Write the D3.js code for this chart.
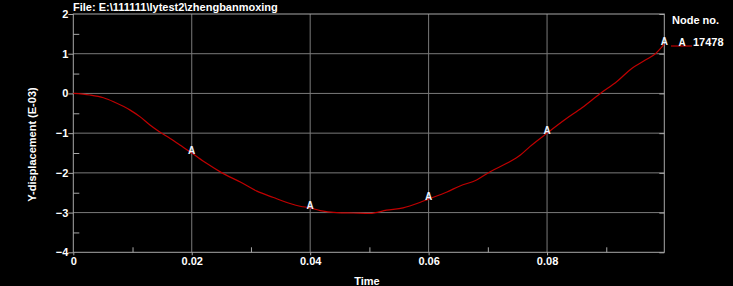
<!DOCTYPE html>
<html>
<head>
<meta charset="utf-8">
<script src="https://cdn.jsdelivr.net/npm/d3@7"></script>
<style>
  html, body { margin: 0; padding: 0; background: #000; }
  svg { display: block; }
</style>
</head>
<body>
<svg id="chart" width="733" height="286"></svg>
<script>
// curve: time (s), Y-displacement (E-03)
const times = [0, 0.0028, 0.0051, 0.0068, 0.0096, 0.0113, 0.013, 0.0146, 0.0163, 0.018, 0.02,
  0.0225, 0.0251, 0.0282, 0.031, 0.0338, 0.0366, 0.0383, 0.04, 0.0417, 0.0445, 0.0473, 0.0501,
  0.0529, 0.0557, 0.0586, 0.06, 0.0631, 0.0653, 0.0681, 0.0704, 0.0732, 0.0755, 0.0771, 0.08,
  0.0831, 0.0859, 0.089, 0.0918, 0.0943, 0.0966, 0.0983, 0.0998]
const dispY = [0, -0.04, -0.11, -0.21, -0.42, -0.59, -0.8, -0.97, -1.13, -1.3, -1.5,
  -1.76, -2.0, -2.23, -2.46, -2.62, -2.77, -2.84, -2.88, -2.95, -3.0, -3.01, -3.02,
  -2.94, -2.88, -2.74, -2.66, -2.48, -2.33, -2.18, -1.97, -1.76, -1.55, -1.34, -1.0,
  -0.65, -0.36, 0.0, 0.3, 0.63, 0.84, 1.0, 1.24]
const markerTimes = [0.02, 0.04, 0.06, 0.08, 0.0998]
const xTicks = [0, 0.02, 0.04, 0.06, 0.08]
const xMinor = [0.01, 0.03, 0.05, 0.07, 0.09]
const yTicks = [-4, -3, -2, -1, 0, 1, 2]
const yMinor = [-3.5, -2.5, -1.5, -0.5, 0.5, 1.5]
const nodeNo = '17478'
const fileName = 'File: E:\\111111\\lytest2\\zhengbanmoxing'

const CURVE = '#c00000'
const GRID = '#7a7a7a'
const FRAME = '#a8a8a8'
const FONT = '"Liberation Sans", Arial, sans-serif'

const svg = d3.select('#chart')
const m = { left: 73.3, right: 664.3, top: 14, bottom: 252.3 }

const x = d3.scaleLinear().domain([0, 0.0998]).range([m.left, m.right])
const y = d3.scaleLinear().domain([-4, 2]).range([m.bottom, m.top])

// grid
const grid = svg.append('g').attr('stroke', GRID).attr('stroke-width', 1)
grid.selectAll('line.gx').data(xTicks.slice(1)).join('line')
  .attr('x1', d => x(d)).attr('x2', d => x(d)).attr('y1', m.top).attr('y2', m.bottom)
grid.selectAll('line.gy').data(yTicks.slice(1, -1)).join('line')
  .attr('x1', m.left).attr('x2', m.right).attr('y1', d => y(d)).attr('y2', d => y(d))

// axes
const yAxis = svg.append('g')
  .attr('transform', `translate(${m.left},0)`)
  .call(d3.axisLeft(y).tickValues(yTicks).tickSize(5).tickFormat(d3.format('d')))
const yMinorAxis = svg.append('g')
  .attr('transform', `translate(${m.left},0)`)
  .call(d3.axisRight(y).tickValues(yMinor).tickSize(6).tickFormat(''))
const yRight = svg.append('g')
  .attr('transform', `translate(${m.right},0)`)
  .call(d3.axisLeft(y).tickValues(yTicks).tickSize(5).tickFormat(''))
const xAxis = svg.append('g')
  .attr('transform', `translate(0,${m.bottom})`)
  .call(d3.axisBottom(x).tickValues(xTicks).tickSize(3).tickFormat(d => d === 0 ? '0' : d3.format('.2f')(d)))
const xMinorAxis = svg.append('g')
  .attr('transform', `translate(0,${m.bottom})`)
  .call(d3.axisTop(x).tickValues(xMinor).tickSize(5).tickFormat(''))

;[yAxis, yMinorAxis, yRight, xAxis, xMinorAxis].forEach(g => {
  g.select('.domain').remove()
  g.selectAll('.tick line').attr('stroke', FRAME)
  g.selectAll('.tick text')
    .attr('fill', '#fff')
    .attr('font-family', FONT)
    .attr('font-weight', 'bold')
    .attr('font-size', 11)
})
yAxis.selectAll('.tick text').attr('x', -5)
xAxis.selectAll('.tick text').attr('y', 5)

// frame
svg.append('rect')
  .attr('x', m.left).attr('y', m.top)
  .attr('width', m.right - m.left).attr('height', m.bottom - m.top)
  .attr('fill', 'none').attr('stroke', FRAME).attr('stroke-width', 1)

// curve
const pts = times.map((t, i) => [t, dispY[i]])
svg.append('path')
  .datum(pts)
  .attr('fill', 'none')
  .attr('stroke', CURVE)
  .attr('stroke-width', 1.2)
  .attr('d', d3.line().x(d => x(d[0])).y(d => y(d[1])).curve(d3.curveMonotoneX))

// "A" markers on the curve
const interpY = t => {
  const i = d3.bisectLeft(times, t)
  if (i <= 0) return dispY[0]
  if (i >= times.length) return dispY[dispY.length - 1]
  const f = (t - times[i - 1]) / (times[i] - times[i - 1])
  return dispY[i - 1] + f * (dispY[i] - dispY[i - 1])
}
svg.append('g').selectAll('text').data(markerTimes).join('text')
  .attr('x', d => x(d))
  .attr('y', d => y(interpY(d)) + 1)
  .attr('text-anchor', 'middle')
  .attr('fill', '#f0f4ff')
  .attr('font-family', FONT)
  .attr('font-weight', 'bold')
  .attr('font-size', 10)
  .text('A')

// legend
const lg = svg.append('g').attr('font-family', FONT).attr('font-weight', 'bold').attr('fill', '#fff')
lg.append('text').attr('x', 672).attr('y', 24).attr('font-size', 11).text('Node no.')
lg.append('line').attr('x1', 671).attr('x2', 692).attr('y1', 46).attr('y2', 46)
  .attr('stroke', CURVE).attr('stroke-width', 1.2)
lg.append('text').attr('x', 682).attr('y', 46).attr('text-anchor', 'middle').attr('font-size', 10).text('A')
lg.append('text').attr('x', 693).attr('y', 46).attr('font-size', 11).text(nodeNo)

// titles
svg.append('text')
  .attr('x', 73).attr('y', 11)
  .attr('fill', '#fff').attr('font-family', FONT).attr('font-weight', 'bold').attr('font-size', 11)
  .text(fileName)
svg.append('text')
  .attr('x', 367).attr('y', 285)
  .attr('text-anchor', 'middle')
  .attr('fill', '#fff').attr('font-family', FONT).attr('font-weight', 'bold').attr('font-size', 11)
  .text('Time')
svg.append('text')
  .attr('transform', 'translate(36,144.5) rotate(-90)')
  .attr('text-anchor', 'middle')
  .attr('fill', '#fff').attr('font-family', FONT).attr('font-weight', 'bold').attr('font-size', 11)
  .text('Y-displacement (E-03)')
</script>
</body>
</html>
